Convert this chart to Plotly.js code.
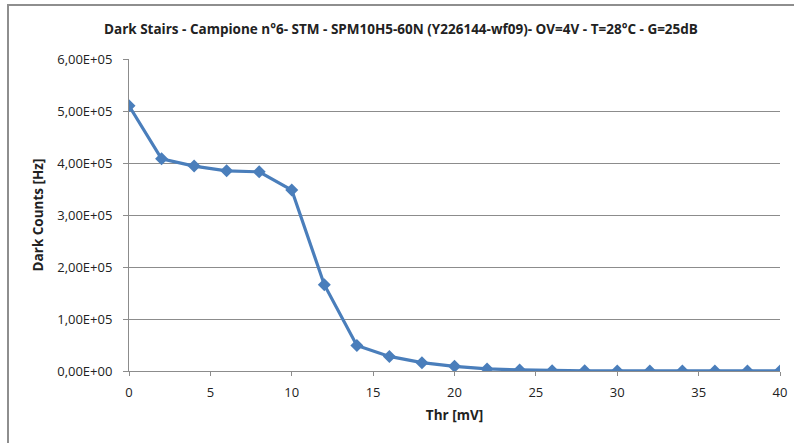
<!DOCTYPE html>
<html>
<head>
<meta charset="utf-8">
<script src="https://cdn.plot.ly/plotly-3.0.1.min.js"></script>
<style>
  html, body { margin: 0; padding: 0; background: #fff; overflow: hidden; }
  #chart { width: 794px; height: 443px; position: absolute; left: 0; top: 0; }
  #frame { position: absolute; left: 7px; top: 4px; width: 820px; height: 460px;
           border: 2px solid #8e8e8e; box-sizing: border-box; pointer-events: none; }
</style>
</head>
<body>
<div id="chart"></div>
<div id="frame"></div>
<script>
const chartTitle = "Dark Stairs - Campione n°6- STM - SPM10H5-60N (Y226144-wf09)- OV=4V - T=28°C - G=25dB";
const xTitle = "Thr [mV]";
const yTitle = "Dark Counts [Hz]";

const thr = [0, 2, 4, 6, 8, 10, 12, 14, 16, 18, 20, 22, 24, 26, 28, 30, 32, 34, 36, 38, 40];
const darkCounts = [510000, 408000, 394000, 385000, 383000, 348000, 166000, 49000, 28000, 16000, 9000, 4000, 2000, 500, 300, 200, 150, 100, 100, 100, 100];

const xTickVals = [0, 5, 10, 15, 20, 25, 30, 35, 40];
const yTickVals = [0, 100000, 200000, 300000, 400000, 500000, 600000];
const yTickText = ["0,00E+00", "1,00E+05", "2,00E+05", "3,00E+05", "4,00E+05", "5,00E+05", "6,00E+05"];

const font = "'Open Sans', 'Noto Sans', sans-serif";

const trace = {
  x: thr,
  y: darkCounts,
  type: "scatter",
  mode: "lines+markers",
  line: { color: "#4a7ebb", width: 3.2 },
  marker: { symbol: "diamond", size: 10, color: "#4a7ebb" },
  showlegend: false
};

const layout = {
  width: 794, height: 443,
  margin: { l: 129, r: 14, t: 59, b: 72 },
  paper_bgcolor: "#ffffff",
  plot_bgcolor: "#ffffff",
  font: { family: font, size: 13, color: "#222" },
  title: { text: "<b>" + chartTitle + "</b>", font: { family: font, size: 13.5, color: "#222" },
           x: 0.505, xanchor: "center", y: 0.935, yanchor: "middle" },
  xaxis: {
    range: [0, 40], tickvals: xTickVals, ticktext: xTickVals.map(String),
    showgrid: false, zeroline: false,
    showline: true, linecolor: "#8c8c8c", linewidth: 1,
    ticks: "outside", ticklen: 4, tickcolor: "#8c8c8c",
    ticklabelstandoff: 5,
    tickfont: { family: font, size: 13, color: "#222" },
    title: { text: "<b>" + xTitle + "</b>", font: { family: font, size: 13.5, color: "#222" }, standoff: 10 }
  },
  yaxis: {
    range: [0, 600000], tickvals: yTickVals, ticktext: yTickText,
    showgrid: true, gridcolor: "#8c8c8c", gridwidth: 1, zeroline: false,
    showline: true, linecolor: "#8c8c8c", linewidth: 1,
    ticks: "outside", ticklen: 5, tickcolor: "#8c8c8c",
    ticklabelstandoff: 8,
    tickfont: { family: font, size: 13, color: "#222" },
    title: { text: "<b>" + yTitle + "</b>", font: { family: font, size: 13.5, color: "#222" }, standoff: 10 }
  }
};

Plotly.newPlot("chart", [trace], layout, { displayModeBar: false, staticPlot: true });
</script>
</body>
</html>
